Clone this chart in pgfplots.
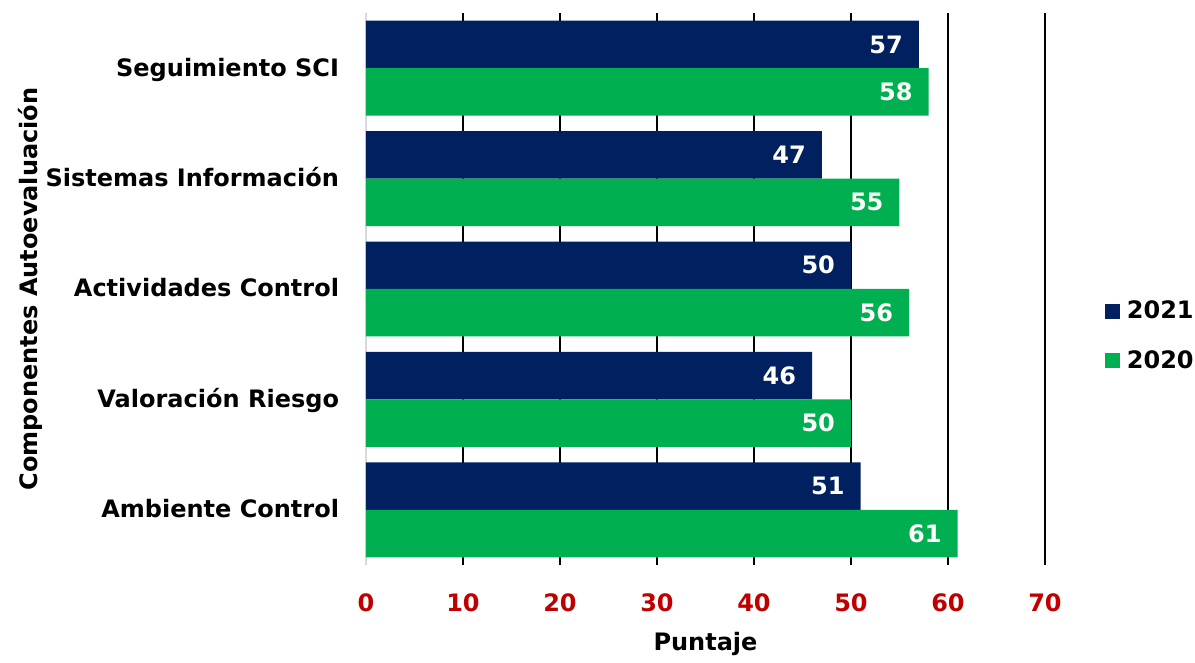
\documentclass[border=0pt]{standalone}
\usepackage{fontspec}
\setmainfont{DejaVu Sans}
\usepackage{pgfplots}
\pgfplotsset{compat=1.18}
\definecolor{navy}{HTML}{002060}
\definecolor{grn}{HTML}{00B050}
\definecolor{rojo}{HTML}{C00000}
\definecolor{lgray}{HTML}{D9D9D9}
\newcommand\ff{\fontsize{12}{14.4}\selectfont\bfseries}
\begin{document}
\begin{tikzpicture}[font=\ff]
\begin{axis}[
  scale only axis, width=339.5pt, height=276pt,
  xbar, bar width=0.43,
  xmin=0, xmax=70, ymin=-0.5, ymax=4.5,
  xtick={0,10,...,70},
  ytick={0,1,2,3,4},
  yticklabels={Ambiente Control, Valoración Riesgo, Actividades Control, Sistemas Información, Seguimiento SCI},
  axis x line*=bottom, axis y line*=left,
  x axis line style={draw=none},
  y axis line style={draw=lgray, line width=1pt, -},
  tick style={draw=none},
  xmajorgrids, major grid style={black, line width=1pt},
  /pgf/number format/assume math mode=true,
  xticklabel style={text=rojo, font=\ff, anchor=base, yshift=-23.5pt},
  yticklabel style={font=\ff, anchor=base east, xshift=-5.7pt, yshift=-4pt},
  xlabel={Puntaje},
  xlabel style={font=\ff, at={(rel axis cs:0.5,0)}, anchor=base, yshift=-43pt},
  ylabel={Componentes Autoevaluación},
  ylabel style={font=\ff, at={(rel axis cs:-0.4845,0.5)}, anchor=base},
  nodes near coords,
  nodes near coords align={anchor=east},
  every node near coord/.append style={text=white, font=\ff, xshift=-4.5pt},
  legend style={at={(rel axis cs:1,0.5)}, anchor=west, xshift=29.75pt, yshift=-23.5pt,
    draw=none, fill=none, font=\ff, inner sep=0pt, row sep=14.5pt, column sep=3.5pt,
    nodes={inner xsep=0pt, inner ysep=0pt}},
  legend image code/.code={\fill[#1,draw=none] (0pt,-3.75pt) rectangle (7.5pt,3.75pt);},
]
\addplot[fill=navy, draw=none, bar shift=0.215] coordinates {(51,0) (46,1) (50,2) (47,3) (57,4)};
\addplot[fill=grn, draw=none, bar shift=-0.215] coordinates {(61,0) (50,1) (56,2) (55,3) (58,4)};
\legend{2021,2020}
\coordinate (bl) at (rel axis cs:0,0);
\end{axis}
\path (bl) ++(-183pt,-44.5pt) rectangle ++(597.5pt,327pt);
\end{tikzpicture}
\end{document}
